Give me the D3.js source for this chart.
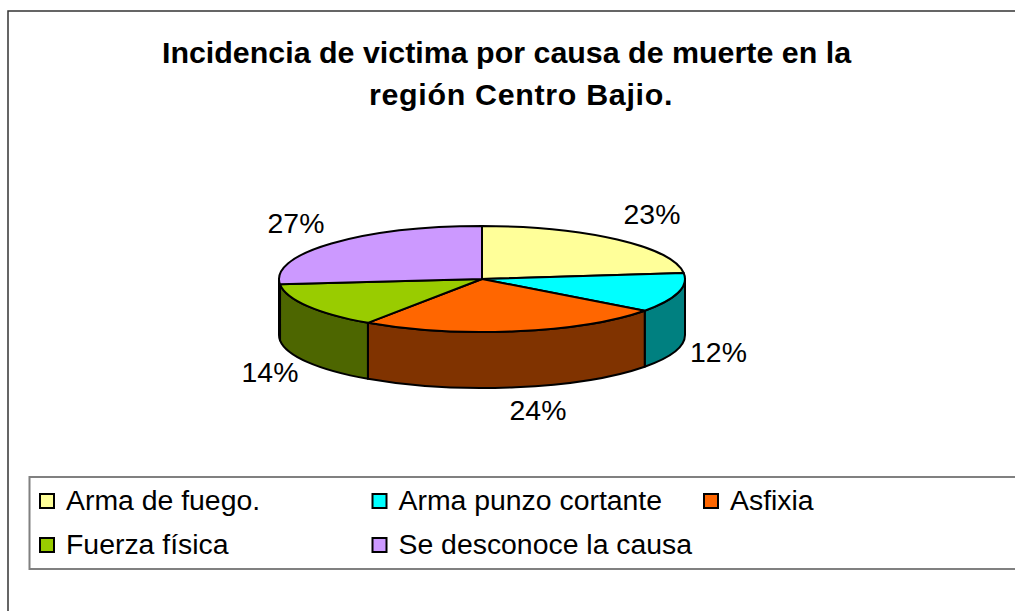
<!DOCTYPE html>
<html lang="es">
<head>
<meta charset="utf-8">
<title>Incidencia de victima por causa de muerte</title>
<script src="https://cdnjs.cloudflare.com/ajax/libs/d3/7.8.5/d3.min.js"></script>
<style>
    html, body { margin: 0; padding: 0; background: #fff; overflow: hidden; }
    text { font-family: "Liberation Sans", Arial, sans-serif; fill: #000; }
</style>
</head>
<body>
<svg id="chart" width="1015" height="611"></svg>
<script>
    const titleLines = ["Incidencia de victima por causa de muerte en la", "región Centro Bajio."];
    const categories = ["Arma de fuego.", "Arma punzo cortante", "Asfixia", "Fuerza física", "Se desconoce la causa"];
    // estimated from the slice edges, labels show them rounded
    const values = [23.2, 12, 24.3, 13.9, 26.6];
    const topColors = ["#ffff99", "#00ffff", "#ff6600", "#99cc00", "#cc99ff"];
    const sideColors = ["#808050", "#008080", "#803300", "#4d6600", "#664d80"];

    // pie geometry
    const cx = 482, cy = 279, rx = 203, ry = 53, depth = 56;

    const svg = d3.select("#chart");

    // outer frame, open on the right
    svg.append("path")
        .attr("d", "M8,611V11H1015")
        .attr("fill", "none")
        .attr("stroke", "#333")
        .attr("stroke-width", 1.5);

    // second title line sits off centre and a bit wider in the original
    svg.selectAll("text.title")
        .data(titleLines)
        .join("text")
        .attr("class", "title")
        .attr("x", (d, i) => i ? 521 : 506.5)
        .attr("y", (d, i) => i ? 105 : 62.5)
        .attr("text-anchor", "middle")
        .attr("font-size", 30.4)
        .attr("font-weight", "bold")
        .attr("letter-spacing", (d, i) => i ? 0.68 : 0)
        .text(d => d);

    const slices = d3.pie().sort(null).value(d => d)(values);

    const px = a => cx + rx * Math.sin(a);
    const py = a => cy - ry * Math.cos(a);

    function sidePath(a0, a1) {
        return `M${px(a0)},${py(a0)}` +
            `A${rx},${ry} 0 0 1 ${px(a1)},${py(a1)}` +
            `L${px(a1)},${py(a1) + depth}` +
            `A${rx},${ry} 0 0 0 ${px(a0)},${py(a0) + depth}Z`;
    }

    function topPath(a0, a1) {
        const large = a1 - a0 > Math.PI ? 1 : 0;
        return `M${cx},${cy}L${px(a0)},${py(a0)}` +
            `A${rx},${ry} 0 ${large} 1 ${px(a1)},${py(a1)}Z`;
    }

    // only the front half of the wall shows
    const front = slices
        .map((s, i) => ({
            i,
            a0: Math.max(s.startAngle, Math.PI / 2),
            a1: Math.min(s.endAngle, Math.PI * 1.5)
        }))
        .filter(d => d.a1 > d.a0);

    svg.append("g").selectAll("path")
        .data(front)
        .join("path")
        .attr("d", d => sidePath(d.a0, d.a1))
        .attr("fill", d => sideColors[d.i])
        .attr("stroke", "#000")
        .attr("stroke-width", 2)
        .attr("stroke-linejoin", "round");

    svg.append("g").selectAll("path")
        .data(slices)
        .join("path")
        .attr("d", d => topPath(d.startAngle, d.endAngle))
        .attr("fill", (d, i) => topColors[i])
        .attr("stroke", "#000")
        .attr("stroke-width", 2)
        .attr("stroke-linejoin", "round");

    // data labels
    const labelPos = [[652, 223.5], [718.5, 362], [538, 419.5], [270, 382], [296, 232.5]];
    svg.append("g").selectAll("text")
        .data(values)
        .join("text")
        .attr("x", (d, i) => labelPos[i][0])
        .attr("y", (d, i) => labelPos[i][1])
        .attr("text-anchor", "middle")
        .attr("font-size", 28.4)
        .text(d => Math.round(d) + "%");

    // legend
    svg.append("path")
        .attr("d", "M1015,477H29.5V569H1015")
        .attr("fill", "none")
        .attr("stroke", "#808080")
        .attr("stroke-width", 2);

    const legendX = [40, 372.5, 704];
    const legendY = [501, 545];
    const legend = svg.append("g").selectAll("g")
        .data(categories)
        .join("g")
        .attr("transform", (d, i) => `translate(${legendX[i % 3]},${legendY[Math.floor(i / 3)]})`);

    legend.append("rect")
        .attr("x", 0)
        .attr("y", -7)
        .attr("width", 14)
        .attr("height", 14)
        .attr("fill", (d, i) => topColors[i])
        .attr("stroke", "#000")
        .attr("stroke-width", 2);

    legend.append("text")
        .attr("x", 26)
        .attr("y", 8.5)
        .attr("font-size", 28.4)
        .text(d => d);
</script>
</body>
</html>
